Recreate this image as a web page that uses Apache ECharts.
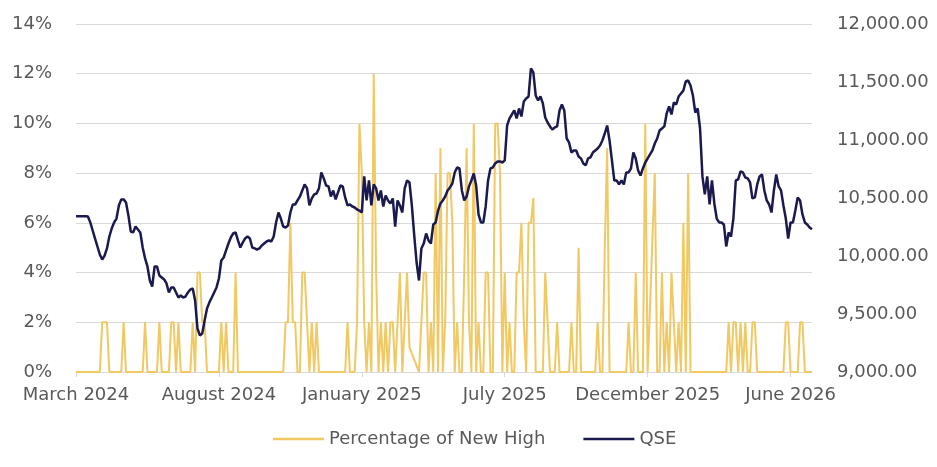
<!DOCTYPE html>
<html>
<head>
<meta charset="utf-8">
<script src="https://cdn.jsdelivr.net/npm/echarts@6/dist/echarts.min.js"></script>
<style>
html,body{margin:0;padding:0;background:#fff;}
#chart{width:937px;height:467px;}
</style>
</head>
<body>
<div id="chart"></div>
<script>
// Tick labels on the x axis (one every labelStep points)
const tickLabels = ['March 2024','August 2024','January 2025','July 2025','December 2025','June 2026'];
const labelStep = 60;

// Percentage of New High (%)
const newHighPct = [
0,0,0,0,0,0,0,0,0,0,0,
2,2,2,
0,0,0,0,0,0,
2,
0,0,0,0,0,0,0,0,
2,
0,0,0,0,0,
2,
0,0,0,0,
2,2,0,2,0,
0,0,0,
0,2,0,4,4,2,2,0,
0,0,0,0,0,
2,0,2,0,
0,0,
4,
0,0,0,0,0,0,0,0,0,0,0,0,0,0,0,0,0,0,0,0,
2,2,6,2,2,0,0,4,4,2,0,2,0,2,
0,0,0,0,0,0,0,0,0,0,0,0,
2,0,0,0,2,10,8,2,0,2,0,12,4,0,2,0,2,0,2,2,0,2,4,0,2,4,1,null,null,null,
0,2,4,4,0,2,0,8,0,9,0,2,8,8,6,0,2,0,0,4,9,2,0,10,0,2,0,0,4,4,0,0,10,10,8,0,
4,0,2,0,0,4,4,6,2,0,6,6,7,0,
0,0,0,4,2,0,0,0,2,0,0,0,0,0,2,0,0,5,0,0,0,0,0,0,0,2,0,0,5,9,
0,0,0,0,0,0,0,0,2,0,0,4,0,0,0,10,0,null,null,8,0,0,4,0,2,0,4,2,0,2,0,6,0,8,
0,0,0,0,0,0,0,0,0,0,0,0,0,0,0,0,
2,0,2,2,0,2,0,2,0,0,2,2,
0,0,0,0,0,0,0,0,0,0,0,0,
2,2,0,0,0,0,2,2,0,0,0,0
];

// QSE index level
const qse = [
10343,10343,10343,10343,10343,10340,10290,10220,10150,10082,
10013,9970,10004,10065,10168,10237,10289,10323,10436,10488,
10488,10462,10350,10211,10203,10254,10229,10203,10073,9979,
9910,9789,9737,9910,9910,9832,9815,9798,9763,9686,
9729,9729,9686,9642,9660,9642,9651,9686,9711,9720,
9617,9375,9315,9332,9444,9548,9600,9642,9686,9729,
9806,9961,9987,10048,10108,10160,10194,10203,10134,10073,
10116,10151,10168,10151,10073,10065,10056,10065,10091,10108,
10125,10134,10125,10168,10289,10375,10323,10254,10246,10263,
10375,10444,10444,10479,10513,10565,10617,10583,10436,10496,
10531,10539,10583,10720,10669,10608,10600,10513,10565,10488,
10548,10608,10600,10505,10436,10444,10427,10418,10401,10392,
10375,10686,10479,10651,10436,10617,10583,10479,10565,10427,
10522,10479,10453,10496,10254,10479,10436,10375,10583,10651,
10634,10436,10177,9944,9789,10065,10108,10194,10134,10108,
10272,10289,10392,10453,10479,10513,10565,10591,10625,10720,
10763,10755,10565,10479,10513,10600,10651,10711,10608,10358,
10289,10289,10427,10651,10755,10763,10798,10815,10815,10806,
10824,11125,11186,11220,11255,11186,11272,11203,11332,11358,
11375,11617,11582,11384,11341,11375,11315,11194,11151,11117,
11091,11108,11117,11255,11306,11255,11013,10979,10892,10910,
10910,10858,10841,10798,10781,10841,10850,10892,10910,10927,
10953,10996,11056,11125,10996,10824,10651,10651,10617,10651,
10617,10720,10720,10755,10892,10841,10737,10694,10755,10806,
10841,10876,10910,10970,11013,11082,11099,11117,11229,11289,
11220,11324,11306,11375,11401,11427,11505,11513,11470,11384,
11237,11272,11099,10686,10531,10686,10444,10651,10453,10323,
10289,10289,10272,10082,10203,10168,10323,10651,10660,10729,
10720,10677,10669,10634,10496,10505,10617,10686,10703,10565,
10479,10444,10375,10565,10703,10600,10565,10436,10323,10151,
10289,10289,10392,10505,10479,10358,10289,10272,10246,10230
];

const categories = qse.map((_, i) => String(i));
const FONT = 'DejaVu Sans';
const TXT = '#595959';
const GRID = '#d9d9d9';

const chart = echarts.init(document.getElementById('chart'), null, {renderer: 'canvas'});
chart.setOption({
  animation: false,
  backgroundColor: '#ffffff',
  grid: {left: 76, right: 125, top: 24, bottom: 95, containLabel: false},
  legend: {
    left: 268, top: 425,
    itemWidth: 51, itemHeight: 2.5, itemGap: 38,
    icon: 'rect',
    textStyle: {fontFamily: FONT, fontSize: 18, color: TXT},
    data: ['Percentage of New High', 'QSE']
  },
  xAxis: {
    type: 'category',
    data: categories,
    boundaryGap: false,
    axisLine: {show: true, lineStyle: {color: GRID, width: 1}},
    axisTick: {show: true, interval: labelStep - 1, length: 5, lineStyle: {color: GRID}},
    axisLabel: {
      interval: labelStep - 1, margin: 14,
      fontFamily: FONT, fontSize: 18, color: TXT,
      formatter: (v, idx) => (idx % labelStep === 0 ? (tickLabels[idx / labelStep] || '') : '')
    },
    splitLine: {show: false}
  },
  yAxis: [
    {
      type: 'value', min: 0, max: 14, interval: 2, position: 'left',
      axisLine: {show: false}, axisTick: {show: false},
      axisLabel: {margin: 24, fontFamily: FONT, fontSize: 18, color: TXT, formatter: '{value}%'},
      splitLine: {show: true, lineStyle: {color: GRID, width: 1}}
    },
    {
      type: 'value', min: 9000, max: 12000, interval: 500, position: 'right',
      axisLine: {show: false}, axisTick: {show: false},
      axisLabel: {
        margin: 25, fontFamily: FONT, fontSize: 18, color: TXT,
        formatter: v => v.toLocaleString('en-US', {minimumFractionDigits: 2, maximumFractionDigits: 2})
      },
      splitLine: {show: false}
    }
  ],
  series: [
    {
      name: 'Percentage of New High', type: 'line', yAxisIndex: 0,
      data: newHighPct, showSymbol: false, symbol: 'none', connectNulls: true,
      lineStyle: {color: '#F1C862', width: 2}, itemStyle: {color: '#F1C862'}
    },
    {
      name: 'QSE', type: 'line', yAxisIndex: 1,
      data: qse, showSymbol: false, symbol: 'none',
      lineStyle: {color: '#1B1A4E', width: 2.5}, itemStyle: {color: '#1B1A4E'}
    }
  ]
});
</script>
</body>
</html>
